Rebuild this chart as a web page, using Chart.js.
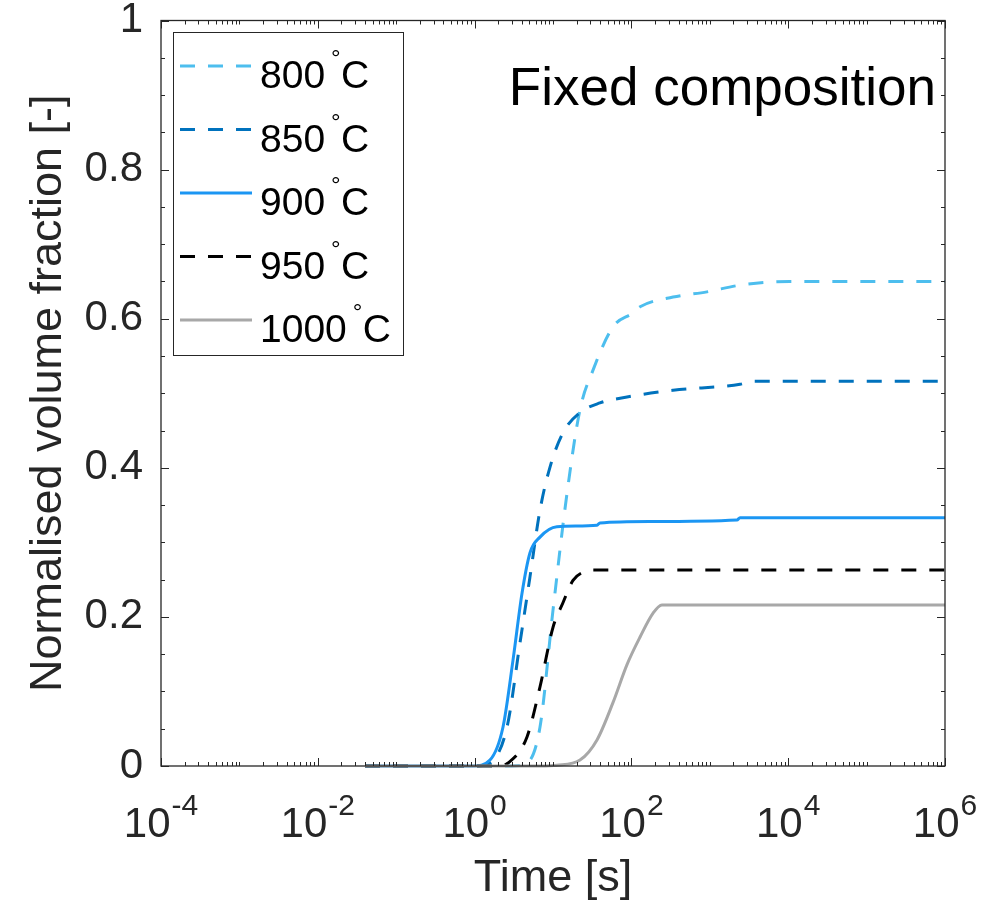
<!DOCTYPE html>
<html>
<head>
<meta charset="utf-8">
<script src="https://cdn.jsdelivr.net/npm/chart.js@4"></script>
<style>
  body { margin: 0; background: #fff; }
  canvas { display: block; }
</style>
</head>
<body>
<canvas id="volChart" width="1005" height="906"></canvas>
<script>
// temperatures shown in the legend
const temps = ["800", "850", "900", "950", "1000"];

// time [s] and normalised volume fraction
const time800 = [0.04, 3, 4.66, 6.82, 10.0, 15.1, 22.1, 32.4, 58.2, 105, 129, 340, 920, 2430, 10500, 1e6];
const frac800 = [0, 0, 0.004, 0.052, 0.209, 0.366, 0.478, 0.531, 0.589, 0.608, 0.616, 0.629, 0.636, 0.645, 0.65, 0.65];

const time850 = [0.04, 1.07, 1.57, 2.59, 3.79, 5.09, 6.82, 9.16, 13.4, 22.1, 39.7, 87.9, 340, 2430, 3550, 1e6];
const frac850 = [0, 0, 0.004, 0.052, 0.165, 0.254, 0.343, 0.401, 0.447, 0.474, 0.487, 0.495, 0.504, 0.512, 0.516, 0.516];

const time900 = [0.04, 0.955, 1.57, 2.30, 3.09, 4.03, 5.09, 6.82, 11.2, 36.4, 39.7, 173, 2220, 2430, 1e6];
const frac900 = [0, 0, 0.008, 0.052, 0.142, 0.232, 0.286, 0.307, 0.321, 0.323, 0.326, 0.328, 0.330, 0.333, 0.333];

const time950 = [0.04, 2.0, 2.67, 4.66, 6.82, 10.0, 13.4, 18.0, 24.2, 31.4, 1e6];
const frac950 = [0, 0, 0.004, 0.039, 0.106, 0.186, 0.219, 0.249, 0.260, 0.263, 0.263];

const time1000 = [0.04, 6.82, 11.2, 22.1, 36.4, 58.2, 87.9, 129, 189, 245, 1e6];
const frac1000 = [0, 0, 0.001, 0.008, 0.035, 0.085, 0.136, 0.173, 0.205, 0.216, 0.216];

// axis ticks
const yTicks = [0, 0.2, 0.4, 0.6, 0.8, 1];
const xExponents = [-4, -2, 0, 2, 4, 6];

const AX = "#262626";
const FONT = "'Liberation Sans', Arial, Helvetica, sans-serif";

function pts(t, v) {
  return t.map((x, i) => ({ x: x, y: v[i] }));
}

const series = [
  { t: time800, v: frac800, color: "#4DBEEE", dash: [15, 13] },
  { t: time850, v: frac850, color: "#0072BD", dash: [15, 13] },
  { t: time900, v: frac900, color: "#1B96F3", dash: [] },
  { t: time950, v: frac950, color: "#000000", dash: [15, 13] },
  { t: time1000, v: frac1000, color: "#A8A8A8", dash: [] },
];

const datasets = series.map((s, i) => ({
  label: temps[i] + "°C",
  data: pts(s.t, s.v),
  borderColor: s.color,
  backgroundColor: s.color,
  borderDash: s.dash,
  borderWidth: 3,
  pointRadius: 0,
  cubicInterpolationMode: "monotone",
  fill: false,
  clip: false,
  order: series.length - i,
}));

// MATLAB style box, inward ticks, superscript labels, legend and annotation
const matlabLook = {
  id: "matlabLook",
  afterDraw(chart) {
    const ctx = chart.ctx;
    const a = chart.chartArea;
    const xs = chart.scales.x;
    const ys = chart.scales.y;
    ctx.save();
    ctx.strokeStyle = AX;
    ctx.lineWidth = 1.3;
    ctx.strokeRect(a.left, a.top, a.right - a.left, a.bottom - a.top);

    ctx.lineWidth = 1;
    ctx.beginPath();
    for (let k = 0; k <= 20; k++) {
      const y = Math.round(ys.getPixelForValue(k * 0.05)) + 0.5;
      const len = k % 4 === 0 ? 8 : 4;
      ctx.moveTo(a.left, y); ctx.lineTo(a.left + len, y);
      ctx.moveTo(a.right, y); ctx.lineTo(a.right - len, y);
    }
    for (let e = -4; e <= 6; e++) {
      for (let m = 1; m <= 9; m++) {
        if (e === 6 && m > 1) break;
        const x = Math.round(xs.getPixelForValue(m * Math.pow(10, e))) + 0.5;
        const len = m === 1 && e % 2 === 0 ? 8 : 4;
        ctx.moveTo(x, a.bottom); ctx.lineTo(x, a.bottom - len);
        ctx.moveTo(x, a.top); ctx.lineTo(x, a.top + len);
      }
    }
    ctx.stroke();

    // x tick labels 10^n
    ctx.fillStyle = AX;
    ctx.textBaseline = "alphabetic";
    ctx.textAlign = "left";
    xExponents.forEach(e => {
      const px = xs.getPixelForValue(Math.pow(10, e));
      ctx.font = "42px " + FONT;
      const base = "10";
      const wb = ctx.measureText(base).width;
      ctx.font = "30px " + FONT;
      const exp = String(e);
      const we = ctx.measureText(exp).width;
      const x0 = px - (wb + we + 1) / 2;
      ctx.font = "42px " + FONT;
      ctx.fillText(base, x0, 837);
      ctx.font = "30px " + FONT;
      ctx.fillText(exp, x0 + wb + 1, 815);
    });

    // annotation
    ctx.fillStyle = "#000";
    ctx.font = "53px " + FONT;
    ctx.textAlign = "right";
    ctx.fillText("Fixed composition", 936, 105);

    // legend
    const lx = 173, ly = 32, lw = 230, lh = 323;
    ctx.fillStyle = "#fff";
    ctx.fillRect(lx, ly, lw, lh);
    ctx.strokeStyle = AX;
    ctx.lineWidth = 1;
    ctx.strokeRect(lx + 0.5, ly + 0.5, lw, lh);
    ctx.textAlign = "left";
    chart.data.datasets.forEach((ds, i) => {
      const y = 66 + i * 63.5;
      ctx.strokeStyle = ds.borderColor;
      ctx.lineWidth = 3;
      ctx.setLineDash(ds.borderDash);
      ctx.beginPath();
      ctx.moveTo(180, y);
      ctx.lineTo(252, y);
      ctx.stroke();
      ctx.setLineDash([]);
      ctx.fillStyle = "#000";
      ctx.font = "39px " + FONT;
      const num = temps[i];
      ctx.fillText(num, 260, y + 22);
      const wn = ctx.measureText(num).width;
      ctx.font = "24px " + FONT;
      ctx.fillText("°", 260 + wn + 6, y);
      ctx.font = "39px " + FONT;
      ctx.fillText("C", 260 + wn + 16, y + 22);
    });
    ctx.restore();
  },
};

const ctx = document.getElementById("volChart");

new Chart(ctx, {
  type: "line",
  data: { datasets: datasets },
  options: {
    responsive: false,
    animation: false,
    devicePixelRatio: 1,
    layout: { padding: { top: 0, right: 60, left: 0, bottom: 0 } },
    plugins: { legend: { display: false }, tooltip: { enabled: false } },
    scales: {
      x: {
        type: "logarithmic",
        min: 1e-4,
        max: 1e6,
        grid: { display: false, drawTicks: false },
        border: { display: false },
        ticks: { display: false },
        title: {
          display: true,
          text: "Time [s]",
          color: AX,
          font: { family: FONT, size: 45 },
          padding: { top: 0, bottom: 0 },
        },
        afterFit: s => { s.height = 140; },
      },
      y: {
        type: "linear",
        min: 0,
        max: 1,
        afterBuildTicks: s => { s.ticks = yTicks.map(v => ({ value: v })); },
        grid: { display: false, drawTicks: false },
        border: { display: false },
        ticks: {
          color: AX,
          font: { family: FONT, size: 42 },
          padding: 18,
          callback: v => String(Math.round(v * 10) / 10),
        },
        title: {
          display: true,
          text: "Normalised volume fraction [-]",
          color: AX,
          font: { family: FONT, size: 45 },
          padding: { top: 22, bottom: 0 },
        },
        afterFit: s => {
          s.width = 161;
          s.paddingTop = 20.5;
          s.paddingBottom = 0;
        },
      },
    },
  },
  plugins: [matlabLook],
});
</script>
</body>
</html>
